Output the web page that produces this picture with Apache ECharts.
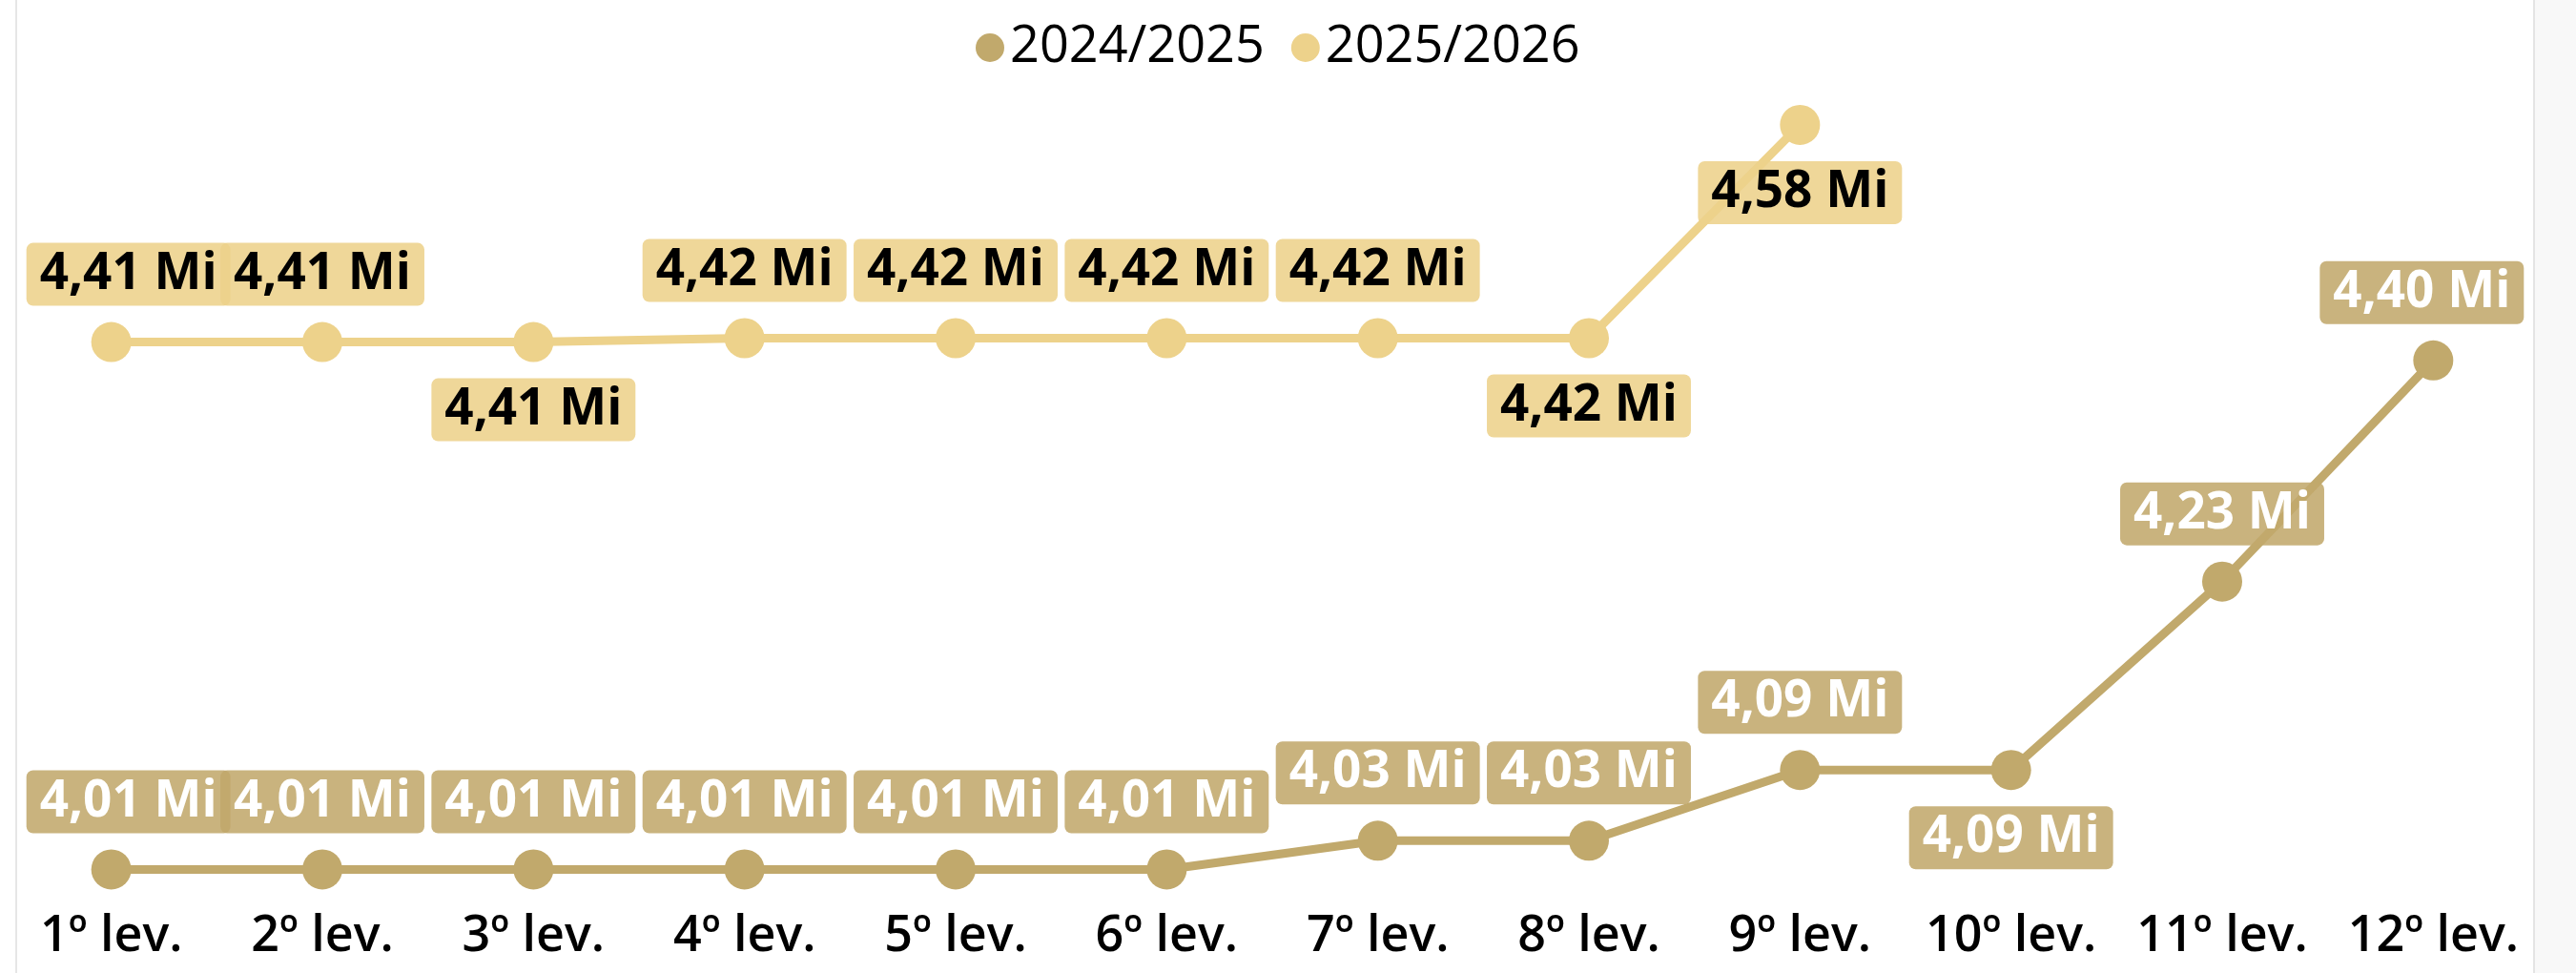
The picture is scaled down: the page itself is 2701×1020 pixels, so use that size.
<!DOCTYPE html>
<html>
<head>
<meta charset="utf-8">
<script src="https://cdn.jsdelivr.net/npm/echarts@6/dist/echarts.min.js"></script>
<style>
  html, body { margin: 0; padding: 0; background: #fff; }
  #main { width: 2701px; height: 1020px; }
</style>
</head>
<body>
<div id="main"></div>
<script>
// Chart data
const levels = ["1º lev.", "2º lev.", "3º lev.", "4º lev.", "5º lev.", "6º lev.",
  "7º lev.", "8º lev.", "9º lev.", "10º lev.", "11º lev.", "12º lev."];
const season2425 = [4.011, 4.011, 4.011, 4.011, 4.011, 4.011, 4.033, 4.033, 4.087, 4.087, 4.231, 4.400];
const season2526 = [4.414, 4.414, 4.414, 4.417, 4.417, 4.417, 4.417, 4.417, 4.580, null, null, null];
const seriesNames = ["2024/2025", "2025/2026"];

// which points get their label under the marker
const belowOld = [9];
const belowNew = [2, 7, 8];

const colorOld = "#c1a96c";
const colorNew = "#edd28b";

var myChart = echarts.init(document.getElementById("main"));

function fmt(p) {
  return p.value.toFixed(2).replace(".", ",") + " Mi";
}

function buildData(values, below) {
  return values.map((v, i) => {
    let d = { value: v, label: { position: below.includes(i) ? "bottom" : "top" } };
    if (i === 0) d.label.offset = [18, 0];
    if (i === values.length - 1 && v !== null) d.label.offset = [-12, 0];
    return d;
  });
}

function labelStyle(bg, color) {
  return {
    show: true,
    formatter: fmt,
    distance: 17,
    color: color,
    fontFamily: "Open Sans",
    fontWeight: "bold",
    fontSize: 53,
    lineHeight: 62,
    padding: [2, 14],
    backgroundColor: bg,
    borderRadius: 7,
  };
}

var option = {
  animation: false,
  textStyle: { fontFamily: "Open Sans" },
  graphic: [
    { type: "line", z: -10, shape: { x1: 17, y1: 0, x2: 17, y2: 1020 }, style: { stroke: "#e6e6e6", lineWidth: 2 } },
    { type: "rect", z: -10, shape: { x: 2657, y: 0, width: 44, height: 1020 }, style: { fill: "#f8f8f8" } },
    { type: "line", z: -10, shape: { x1: 2657, y1: 0, x2: 2657, y2: 1020 }, style: { stroke: "#e4e4e4", lineWidth: 2 } },
  ],
  legend: {
    left: 1018,
    top: 18,
    icon: "circle",
    itemWidth: 30,
    itemHeight: 30,
    itemGap: 28,
    textStyle: { fontSize: 54, lineHeight: 52, color: "#000", padding: [0, 0, 0, 1] },
    data: seriesNames,
  },
  grid: {
    left: 6,
    right: 39,
    top: 76,
    bottom: 66,
  },
  xAxis: {
    type: "category",
    data: levels,
    axisTick: { show: false },
    axisLine: { show: false },
    axisLabel: {
      color: "#000",
      fontSize: 52,
      fontWeight: 600,
      lineHeight: 48,
      margin: 4,
      interval: 0,
    },
  },
  yAxis: {
    type: "value",
    show: false,
    min: 3.98,
    max: 4.62,
    splitLine: { show: false },
  },
  series: [
    {
      name: seriesNames[0],
      type: "line",
      data: buildData(season2425, belowOld),
      symbol: "circle",
      symbolSize: 42,
      color: colorOld,
      lineStyle: { width: 9, color: colorOld },
      itemStyle: { color: colorOld },
      label: labelStyle("rgba(193,169,108,0.88)", "#fff"),
    },
    {
      name: seriesNames[1],
      type: "line",
      data: buildData(season2526, belowNew),
      symbol: "circle",
      symbolSize: 42,
      color: colorNew,
      lineStyle: { width: 9, color: colorNew },
      itemStyle: { color: colorNew },
      label: labelStyle("rgba(237,210,139,0.88)", "#000"),
    },
  ],
};

myChart.setOption(option);
</script>
</body>
</html>
